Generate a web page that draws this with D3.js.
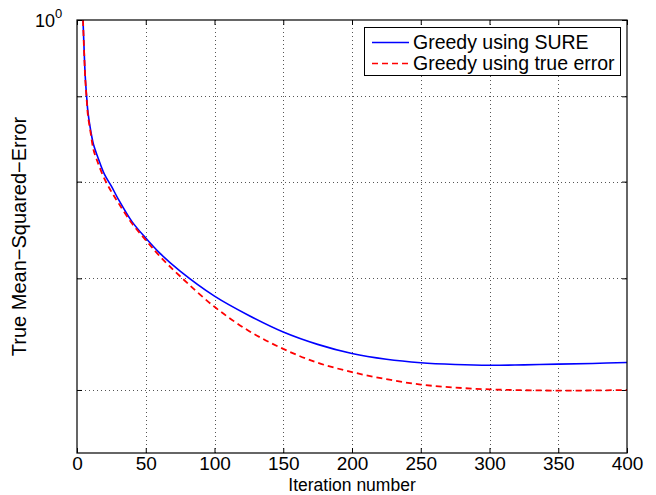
<!DOCTYPE html>
<html>
<head>
<meta charset="utf-8">
<script src="https://cdn.jsdelivr.net/npm/d3@7"></script>
<style>
  body { margin: 0; background: #fff; }
  text { font-family: "Liberation Sans", Arial, sans-serif; }
</style>
</head>
<body>
<svg id="visu" width="656" height="495"></svg>
<script>
// iteration numbers where the curves were read
var itersSure = [1, 2, 3, 4, 5, 6, 7, 8, 10, 12, 15, 20, 25, 30, 40, 50, 60, 75, 100, 125, 150, 175, 200, 225, 250, 275, 300, 325, 350, 375, 400];
var sure      = [1.30, 1.15, 1.07, 1.02, 0.968, 0.925, 0.900, 0.880, 0.858, 0.842, 0.828, 0.808, 0.795, 0.781, 0.757, 0.740, 0.725, 0.707, 0.683, 0.665, 0.650, 0.639, 0.631, 0.626, 0.623, 0.6215, 0.6208, 0.6212, 0.6218, 0.6224, 0.6232];
var itersTrue = [1, 2, 3, 4, 5, 6, 7, 8, 10, 12, 15, 20, 25, 30, 40, 50, 60, 75, 100, 125, 150, 175, 200, 225, 250, 275, 300, 325, 350, 375, 400];
var trueErr   = [1.30, 1.15, 1.07, 1.02, 0.966, 0.922, 0.897, 0.876, 0.855, 0.836, 0.822, 0.803, 0.789, 0.777, 0.755, 0.738, 0.722, 0.702, 0.673, 0.651, 0.635, 0.623, 0.615, 0.609, 0.6045, 0.602, 0.6005, 0.5998, 0.5995, 0.5996, 0.600];

var xTicks = [0, 50, 100, 150, 200, 250, 300, 350, 400];
var yTicks = [0.6, 0.7, 0.8, 0.9, 1];
var legendLabels = ["Greedy using SURE", "Greedy using true error"];

var vis = d3.select("#visu"),
    MARGINS = { top: 20, right: 29, bottom: 42, left: 77 },
    WIDTH = 656,
    HEIGHT = 495;

var xScale = d3.scaleLinear()
    .domain([0, 400])
    .range([MARGINS.left, WIDTH - MARGINS.right]);
var yScale = d3.scaleLog()
    .domain([0.55, 1])
    .range([HEIGHT - MARGINS.bottom, MARGINS.top]);

var x0 = xScale.range()[0], x1 = xScale.range()[1];
var yb = yScale.range()[0], yt = yScale.range()[1];

vis.append("defs").append("clipPath").attr("id", "clip")
  .append("rect")
    .attr("x", x0).attr("y", yt)
    .attr("width", x1 - x0).attr("height", yb - yt);

// grid
var grid = vis.append("g").attr("stroke", "#555").attr("stroke-width", 1)
    .attr("stroke-dasharray", "1,3").attr("shape-rendering", "crispEdges");
xTicks.slice(1, -1).forEach(function(t) {
    grid.append("line")
        .attr("x1", Math.round(xScale(t)) + 0.5).attr("x2", Math.round(xScale(t)) + 0.5)
        .attr("y1", yt).attr("y2", yb);
});
yTicks.slice(0, -1).forEach(function(t) {
    grid.append("line")
        .attr("x1", x0).attr("x2", x1)
        .attr("y1", Math.round(yScale(t)) + 0.5).attr("y2", Math.round(yScale(t)) + 0.5);
});

// axes (ticks inside, MATLAB style)
var xAxisB = d3.axisBottom(xScale).tickValues(xTicks).tickSizeInner(-5).tickSizeOuter(0).tickPadding(4);
var xAxisT = d3.axisTop(xScale).tickValues(xTicks).tickSizeInner(-5).tickSizeOuter(0).tickFormat("");
var yAxisL = d3.axisLeft(yScale).tickValues(yTicks).tickSizeInner(-5).tickSizeOuter(0).tickFormat("");
var yAxisR = d3.axisRight(yScale).tickValues(yTicks).tickSizeInner(-5).tickSizeOuter(0).tickFormat("");

function styleAxis(g) {
    g.select(".domain").remove();
    g.selectAll(".tick line").attr("stroke", "#000");
    g.selectAll(".tick text").attr("font-size", 19).attr("fill", "#000")
        .attr("font-family", "Liberation Sans, Arial, sans-serif");
}

vis.append("g").attr("transform", "translate(0," + yb + ")").call(xAxisB).call(styleAxis);
vis.append("g").attr("transform", "translate(0," + yt + ")").call(xAxisT).call(styleAxis);
vis.append("g").attr("transform", "translate(" + x0 + ",0)").call(yAxisL).call(styleAxis);
vis.append("g").attr("transform", "translate(" + x1 + ",0)").call(yAxisR).call(styleAxis);

// 10^0 label
var lab = vis.append("text")
    .attr("x", 35).attr("y", 27)
    .attr("font-size", 18).attr("fill", "#000");
lab.append("tspan").text("10");
lab.append("tspan").attr("dy", -9).attr("font-size", 13).text("0");

// lines
var lineGen = d3.line()
    .x(function(d) { return xScale(d[0]); })
    .y(function(d) { return yScale(d[1]); })
    .curve(d3.curveCatmullRom.alpha(0.5));

var plot = vis.append("g").attr("clip-path", "url(#clip)");
plot.append("path")
    .attr("d", lineGen(d3.zip(itersSure, sure)))
    .attr("stroke", "#0000ff").attr("stroke-width", 1.6).attr("fill", "none");
plot.append("path")
    .attr("d", lineGen(d3.zip(itersTrue, trueErr)))
    .attr("stroke", "#ff0000").attr("stroke-width", 1.8).attr("fill", "none")
    .attr("stroke-dasharray", "6,4");

// box
vis.append("rect")
    .attr("x", x0).attr("y", yt)
    .attr("width", x1 - x0).attr("height", yb - yt)
    .attr("fill", "none").attr("stroke", "#000").attr("stroke-width", 1.2);

// axis labels
vis.append("text")
    .attr("x", (x0 + x1) / 2).attr("y", 491)
    .attr("text-anchor", "middle").attr("font-size", 17.5).attr("fill", "#000")
    .text("Iteration number");
vis.append("text")
    .attr("transform", "translate(26," + ((yt + yb) / 2) + ") rotate(-90)")
    .attr("text-anchor", "middle").attr("font-size", 20).attr("fill", "#000")
    .text("True Mean\u2212Squared\u2212Error");

// legend
var lg = vis.append("g").attr("transform", "translate(364.5,27.5)");
lg.append("rect").attr("width", 256).attr("height", 48)
    .attr("fill", "#fff").attr("stroke", "#000").attr("stroke-width", 1);
var colors = ["#0000ff", "#ff0000"], dashes = [null, "6,4"];
legendLabels.forEach(function(l, i) {
    var yy = 15 + i * 21;
    lg.append("line").attr("x1", 7.5).attr("x2", 44.5).attr("y1", yy).attr("y2", yy)
        .attr("stroke", colors[i]).attr("stroke-width", 1.6)
        .attr("stroke-dasharray", dashes[i]);
    lg.append("text").attr("x", 48.5).attr("y", yy + 6.5)
        .attr("font-size", 19.5).attr("fill", "#000").text(l);
});
</script>
</body>
</html>
